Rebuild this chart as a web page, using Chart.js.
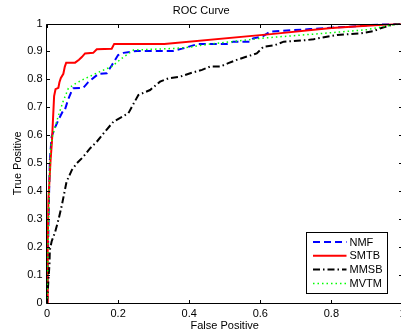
<!DOCTYPE html>
<html>
<head>
<meta charset="utf-8">
<title>ROC Curve</title>
<script src="https://cdn.jsdelivr.net/npm/chart.js@4.4.1/dist/chart.umd.min.js"></script>
<style>
  html, body { margin: 0; padding: 0; background: #fff; overflow: hidden; }
  #rocChart { display: block; }
</style>
</head>
<body>
<canvas id="rocChart" width="410" height="335"></canvas>
<script>
const seriesNames = ['NMF', 'SMTB', 'MMSB', 'MVTM'];

const xTicks = [0, 0.2, 0.4, 0.6, 0.8, 1];
const yTicks = [0, 0.1, 0.2, 0.3, 0.4, 0.5, 0.6, 0.7, 0.8, 0.9, 1];

// NMF (blue dashed)
const nmfX = [0, 0.003, 0.006, 0.008, 0.013, 0.020, 0.032, 0.046, 0.050, 0.060, 0.070, 0.074, 0.102, 0.116, 0.145, 0.168, 0.182, 0.200, 0.215, 0.253, 0.355, 0.380, 0.425, 0.506, 0.524, 0.572, 0.580, 0.605, 0.628, 0.740, 0.880, 0.960, 1.0];
const nmfY = [0, 0.20, 0.40, 0.51, 0.595, 0.62, 0.655, 0.69, 0.69, 0.73, 0.76, 0.768, 0.77, 0.79, 0.82, 0.822, 0.85, 0.887, 0.895, 0.902, 0.902, 0.91, 0.927, 0.927, 0.935, 0.935, 0.947, 0.953, 0.971, 0.98, 0.991, 1.0, 1.0];

// SMTB (red solid)
const smtbX = [0, 0.002, 0.004, 0.010, 0.014, 0.017, 0.020, 0.024, 0.032, 0.035, 0.039, 0.046, 0.050, 0.054, 0.079, 0.090, 0.098, 0.107, 0.130, 0.140, 0.182, 0.189, 0.330, 0.630, 0.800, 1.0];
const smtbY = [0, 0.20, 0.37, 0.51, 0.58, 0.66, 0.74, 0.765, 0.77, 0.79, 0.805, 0.82, 0.845, 0.86, 0.86, 0.87, 0.88, 0.893, 0.895, 0.908, 0.91, 0.927, 0.927, 0.962, 0.984, 1.0];

// MMSB (black dash-dot)
const mmsbX = [0, 0.004, 0.007, 0.008, 0.013, 0.023, 0.032, 0.041, 0.055, 0.070, 0.084, 0.102, 0.121, 0.140, 0.159, 0.187, 0.229, 0.240, 0.257, 0.290, 0.318, 0.342, 0.375, 0.403, 0.436, 0.459, 0.487, 0.510, 0.534, 0.558, 0.590, 0.609, 0.642, 0.666, 0.727, 0.750, 0.816, 0.882, 0.919, 0.938, 0.970, 0.985, 1.0];
const mmsbY = [0, 0.08, 0.14, 0.19, 0.22, 0.255, 0.297, 0.345, 0.434, 0.476, 0.50, 0.523, 0.553, 0.577, 0.607, 0.649, 0.679, 0.705, 0.744, 0.762, 0.792, 0.804, 0.81, 0.822, 0.834, 0.846, 0.846, 0.858, 0.87, 0.88, 0.893, 0.917, 0.923, 0.935, 0.94, 0.944, 0.959, 0.965, 0.973, 0.983, 0.995, 1.0, 1.0];

// MVTM (green dotted)
const mvtmX = [0, 0.003, 0.006, 0.010, 0.016, 0.023, 0.032, 0.045, 0.060, 0.080, 0.102, 0.149, 0.182, 0.210, 0.243, 0.360, 0.400, 0.450, 0.520, 0.600, 0.700, 0.800, 0.900, 0.960, 1.0];
const mvtmY = [0, 0.20, 0.40, 0.55, 0.60, 0.63, 0.67, 0.72, 0.768, 0.785, 0.80, 0.828, 0.846, 0.875, 0.905, 0.911, 0.915, 0.925, 0.935, 0.947, 0.957, 0.967, 0.978, 0.992, 1.0];

function toPoints(xs, ys) {
  return xs.map((x, i) => ({ x, y: ys[i] }));
}

Chart.defaults.font.family = '"Liberation Sans", Arial, Helvetica, sans-serif';
Chart.defaults.font.size = 11;
Chart.defaults.color = '#000';

// MATLAB-style box with inward ticks on all four sides
const frameTicks = {
  id: 'frameTicks',
  afterDatasetsDraw(chart) {
    const { ctx, chartArea: area, scales: { x, y } } = chart;
    const left = Math.round(area.left) - 0.5;
    const top = Math.round(area.top) + 0.5;
    const right = Math.round(area.right) - 0.5;
    const bottom = Math.round(area.bottom) + 0.5;
    const len = 3.5;

    ctx.save();
    ctx.strokeStyle = '#000';
    ctx.lineWidth = 1;
    ctx.beginPath();
    ctx.moveTo(left, top);
    ctx.lineTo(right, top);
    ctx.lineTo(right, bottom);
    ctx.lineTo(left, bottom);
    ctx.closePath();

    xTicks.forEach((v) => {
      const px = Math.round(x.getPixelForValue(v)) + 0.5;
      ctx.moveTo(px, bottom);
      ctx.lineTo(px, bottom - len);
      ctx.moveTo(px, top);
      ctx.lineTo(px, top + len);
    });
    yTicks.forEach((v) => {
      const py = Math.round(y.getPixelForValue(v)) + 0.5;
      ctx.moveTo(left, py);
      ctx.lineTo(left + len, py);
      ctx.moveTo(right, py);
      ctx.lineTo(right - len, py);
    });
    ctx.stroke();
    ctx.restore();
  }
};

// legend box in the lower right of the plot
const boxLegend = {
  id: 'boxLegend',
  afterDraw(chart) {
    const { ctx, chartArea: area } = chart;
    const boxW = 81;
    const boxH = 61;
    const bx = Math.round(area.right - 15.5 - boxW) + 0.5;
    const by = Math.round(area.bottom - 10.5 - boxH) + 0.5;

    ctx.save();
    ctx.fillStyle = '#fff';
    ctx.fillRect(bx, by, boxW, boxH);
    ctx.strokeStyle = '#000';
    ctx.lineWidth = 1;
    ctx.strokeRect(bx, by, boxW, boxH);

    ctx.font = '11px "Liberation Sans", Arial, sans-serif';
    ctx.textBaseline = 'middle';
    chart.data.datasets.forEach((ds, i) => {
      const rowY = by + 9.5 + i * 13.8;
      ctx.beginPath();
      ctx.strokeStyle = ds.borderColor;
      ctx.lineWidth = ds.borderWidth;
      ctx.setLineDash(ds.borderDash || []);
      ctx.moveTo(bx + 6.5, rowY);
      ctx.lineTo(bx + 40, rowY);
      ctx.stroke();
      ctx.setLineDash([]);
      ctx.fillStyle = '#000';
      ctx.fillText(ds.label, bx + 43, rowY + 0.5);
    });
    ctx.restore();
  }
};

new Chart(document.querySelector('#rocChart'), {
  type: 'line',
  data: {
    datasets: [
      {
        label: seriesNames[0],
        data: toPoints(nmfX, nmfY),
        borderColor: '#0000ff',
        borderWidth: 2,
        borderDash: [7, 4],
        order: 4
      },
      {
        label: seriesNames[1],
        data: toPoints(smtbX, smtbY),
        borderColor: '#ff0000',
        borderWidth: 2,
        order: 3
      },
      {
        label: seriesNames[2],
        data: toPoints(mmsbX, mmsbY),
        borderColor: '#000000',
        borderWidth: 2,
        borderDash: [7, 3, 1.5, 3],
        order: 2
      },
      {
        label: seriesNames[3],
        data: toPoints(mvtmX, mvtmY),
        borderColor: '#00ff00',
        borderWidth: 1.5,
        borderDash: [1.5, 3],
        order: 1
      }
    ]
  },
  options: {
    responsive: false,
    animation: false,
    devicePixelRatio: 1,
    layout: { padding: { left: 0, right: 7.5, top: 0, bottom: 0 } },
    elements: {
      point: { radius: 0 },
      line: { tension: 0, fill: false }
    },
    scales: {
      x: {
        type: 'linear',
        min: 0,
        max: 1,
        afterBuildTicks: (scale) => { scale.ticks = xTicks.map((value) => ({ value })); },
        afterFit: (scale) => {
          scale.height = 32;
          scale.paddingLeft = 0;
          scale.paddingRight = 0;
        },
        ticks: {
          padding: 4,
          maxRotation: 0,
          autoSkip: false,
          callback: (value) => String(value)
        },
        grid: { display: false, drawTicks: false },
        border: { display: false },
        title: {
          display: true,
          text: 'False Positive',
          padding: { top: 0, bottom: 2 }
        }
      },
      y: {
        type: 'linear',
        min: 0,
        max: 1,
        afterBuildTicks: (scale) => { scale.ticks = yTicks.map((value) => ({ value })); },
        afterFit: (scale) => { scale.width = 47; },
        ticks: {
          padding: 4.5,
          autoSkip: false,
          callback: (value) => String(value)
        },
        grid: { display: false, drawTicks: false },
        border: { display: false },
        title: {
          display: true,
          text: 'True Positive',
          padding: { top: 11, bottom: 0 }
        }
      }
    },
    plugins: {
      legend: { display: false },
      tooltip: { enabled: false },
      title: {
        display: true,
        text: 'ROC Curve',
        color: '#000',
        font: { size: 11, weight: 'normal' },
        padding: { top: 4, bottom: 6.3 }
      }
    }
  },
  plugins: [frameTicks, boxLegend]
});
</script>
</body>
</html>
